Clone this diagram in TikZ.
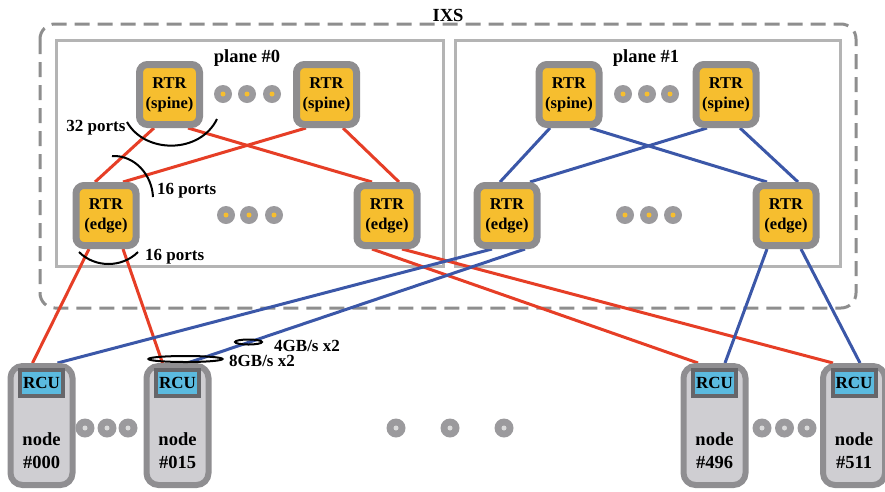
\documentclass[tikz,border=0pt]{standalone}
\usepackage{fontspec}
\setmainfont{Liberation Serif}
\usetikzlibrary{calc}
\definecolor{rtryel}{HTML}{F6BE2F}
\definecolor{rtrgray}{HTML}{8E8D8F}
\definecolor{redl}{HTML}{E63E26}
\definecolor{bluel}{HTML}{3B57A8}
\definecolor{nodefill}{HTML}{CFCED2}
\definecolor{nodegray}{HTML}{8F8E91}
\definecolor{rcugray}{HTML}{66666A}
\definecolor{rcublue}{HTML}{5BBADF}
\definecolor{dotg}{HTML}{9B9A9D}
\definecolor{dotc}{HTML}{DADADA}
\definecolor{planeg}{HTML}{B4B4B4}
\definecolor{ixsg}{HTML}{8E8E8E}
\pgfdeclarelayer{back}
\pgfdeclarelayer{mid}
\pgfsetlayers{back,mid,main}
\begin{document}
\begin{tikzpicture}[x=1pt,y=-1pt,
  rtr/.style={draw=rtrgray, fill=rtryel, line width=7pt, rounded corners=8pt,
    minimum width=60pt, minimum height=60pt, inner sep=0pt, align=center,
    font=\fontsize{16.5}{20}\selectfont\bfseries},
  rl/.style={draw=redl, line width=3pt},
  bl/.style={draw=bluel, line width=3pt},
  hostbox/.style={draw=nodegray, fill=nodefill, line width=6pt, rounded corners=12pt,
    minimum width=62pt, minimum height=119pt, inner sep=0pt},
  rcu/.style={draw=rcugray, fill=rcublue, line width=4pt, minimum width=43pt,
    minimum height=26pt, inner sep=0pt, font=\fontsize{17}{17}\selectfont\bfseries},
  hosttext/.style={align=center, inner sep=0pt, font=\fontsize{18.5}{23}\selectfont\bfseries},
  lbl/.style={inner sep=0pt, font=\fontsize{17}{17}\selectfont\bfseries},
  title/.style={inner sep=0pt, font=\fontsize{18.5}{18.5}\selectfont\bfseries},
  portarc/.style={draw=black, line width=2pt},
  planebox/.style={draw=planeg, fill=white, line width=3pt},
  ixsbox/.style={draw=ixsg, line width=3pt, rounded corners=15pt, dash pattern=on 15pt off 8pt}
]
\useasboundingbox (0,0) rectangle (885,491);

% background frames
\begin{pgfonlayer}{back}
  \draw[ixsbox] (40,24) rectangle (856,308);
  \draw[planebox] (56.5,40.5) rectangle (443.5,266.5);
  \draw[planebox] (455.5,40.5) rectangle (840.5,266.5);
\end{pgfonlayer}

\node[title] (ixs) at (448,15) {IXS};
\node[title] (p0) at (247,58) {plane \#0};
\node[title] (p1) at (646,58) {plane \#1};

% routers
\node[rtr] (s0L) at (169.5,94.5) {RTR\\(spine)};
\node[rtr] (s0R) at (326.5,94.5) {RTR\\(spine)};
\node[rtr] (e0L) at (106,215.5) {RTR\\(edge)};
\node[rtr] (e0R) at (387,215.5) {RTR\\(edge)};
\node[rtr] (s1L) at (569,94.5) {RTR\\(spine)};
\node[rtr] (s1R) at (726,94.5) {RTR\\(spine)};
\node[rtr] (e1L) at (507,215.5) {RTR\\(edge)};
\node[rtr] (e1R) at (786,215.5) {RTR\\(edge)};

% hosts
\foreach \nm/\x/\t in {n000/41.5/000, n015/177.5/015, n496/714.5/496, n511/854/511}{
  \node[hostbox] (\nm) at (\x,425.5) {};
  \node[rcu] (\nm r) at (\x,383) {RCU};
  \node[hosttext] (\nm t) at (\x,451) {node\\\#\t};
}

% links
\begin{pgfonlayer}{mid}
  \draw[rl] ([xshift=-15.5pt]s0L.south) -- ([xshift=-11pt]e0L.north);
  \draw[rl] ([xshift=18.5pt]s0L.south) -- ([xshift=-15pt]e0R.north);
  \draw[rl] ([xshift=-20.5pt]s0R.south) -- ([xshift=17pt]e0L.north);
  \draw[rl] ([xshift=16.5pt]s0R.south) -- ([xshift=12pt]e0R.north);

  \draw[bl] ([xshift=-19pt]s1L.south) -- ([xshift=-7pt]e1L.north);
  \draw[bl] ([xshift=21pt]s1L.south) -- ([xshift=-19pt]e1R.north);
  \draw[bl] ([xshift=-19pt]s1R.south) -- ([xshift=23pt]e1L.north);
  \draw[bl] ([xshift=14pt]s1R.south) -- ([xshift=12pt]e1R.north);

  \draw[rl] ([xshift=-17pt]e0L.south) -- ([xshift=-9pt]n000.north);
  \draw[rl] ([xshift=17pt]e0L.south) -- ([xshift=-15pt]n015.north);
  \draw[rl] ([xshift=-15pt]e0R.south) -- ([xshift=-16.5pt]n496.north);
  \draw[rl] ([xshift=15pt]e0R.south) -- ([xshift=-21pt]n511.north);

  \draw[bl] ([xshift=-15pt]e1L.south) -- ([xshift=16pt]n000.north);
  \draw[bl] ([xshift=18pt]e1L.south) -- ([xshift=10pt]n015.north);
  \draw[bl] ([xshift=-19pt]e1R.south) -- ([xshift=10.5pt]n496.north);
  \draw[bl] ([xshift=15pt]e1R.south) -- ([xshift=6pt]n511.north);
\end{pgfonlayer}

% dots inside planes
\foreach \x/\y in {223/94,247/94,272/94,226/215,249/215,274/215,
                   623/94,647/94,670/94,625/215,649/215,673/215}{
  \fill[dotg] (\x,\y) circle (9pt);
  \fill[rtryel] (\x,\y) circle (2.5pt);
}
% dots between hosts
\foreach \x in {85,107,128,396,450,504,762,784.5,807}{
  \fill[dotg] (\x,428) circle (9.5pt);
  \fill[dotc] (\x,428) circle (2.5pt);
}

% port annotations
\draw[portarc] (127,122) .. controls (145,154) and (200,154) .. (217,119);
\node[lbl] (l32) at (96,128) {32 ports};
\draw[portarc] (112,156) .. controls (135,155) and (152,175) .. (153,197);
\node[lbl, anchor=west] (l16a) at (157,191) {16 ports};
\draw[portarc] (79,252) .. controls (95,268) and (122,268) .. (138,252);
\node[lbl, anchor=west] (l16b) at (145,257) {16 ports};

% bandwidth annotations
\draw[portarc] (248.5,342) ellipse [x radius=13.5pt, y radius=2.5pt];
\node[lbl, anchor=west] (bw4) at (274,346) {4GB/s x2};
\draw[portarc] (185.5,359) ellipse [x radius=37pt, y radius=3pt];
\node[lbl, anchor=west] (bw8) at (229,361) {8GB/s x2};
\end{tikzpicture}
\end{document}
